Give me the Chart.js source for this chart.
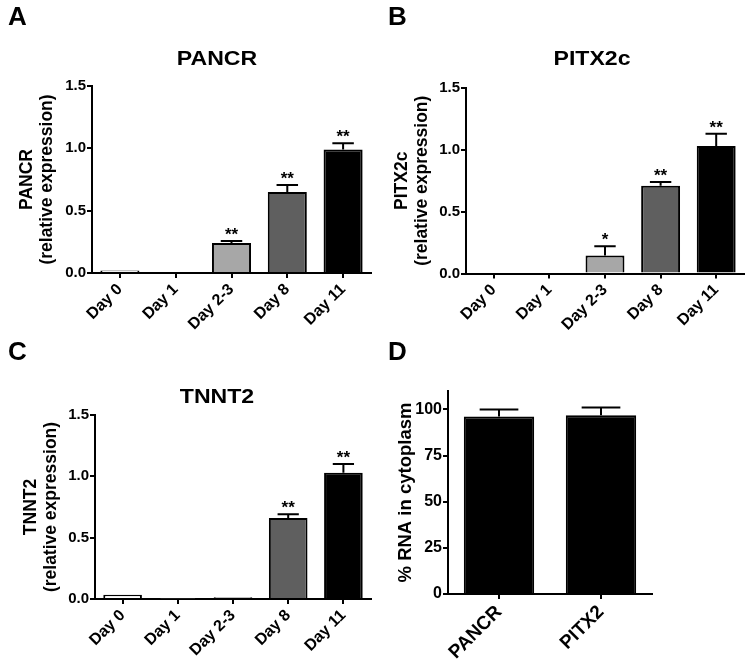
<!DOCTYPE html>
<html>
<head>
<meta charset="utf-8">
<script src="https://cdn.jsdelivr.net/npm/chart.js@4.4.1/dist/chart.umd.min.js"></script>
<style>
  body { margin: 0; background: #fff; }
  #fig { position: relative; width: 750px; height: 670px; font-family: "Liberation Sans", Arial, sans-serif; }
  .panel { position: absolute; width: 375px; height: 335px; }
  .letter, .title { position: absolute; font-weight: bold; color: #000; white-space: nowrap; line-height: 1; }
  .letter { font-size: 26px; }
  .title { font-size: 21px; transform: translate(-50%, -50%) scaleX(1.1); }
</style>
</head>
<body>
<div id="fig">
  <div class="panel" style="left:0;top:0"><canvas id="chartA" width="375" height="335"></canvas></div>
  <div class="panel" style="left:375px;top:0"><canvas id="chartB" width="375" height="335"></canvas></div>
  <div class="panel" style="left:0;top:335px"><canvas id="chartC" width="375" height="335"></canvas></div>
  <div class="panel" style="left:375px;top:335px"><canvas id="chartD" width="375" height="335"></canvas></div>

  <div class="letter" style="left:8px;top:3px">A</div>
  <div class="letter" style="left:388px;top:3px">B</div>
  <div class="letter" style="left:8px;top:338px">C</div>
  <div class="letter" style="left:388px;top:338px">D</div>

  <div class="title" style="left:217px;top:57px">PANCR</div>
  <div class="title" style="left:592px;top:57px">PITX2c</div>
  <div class="title" style="left:217px;top:395px">TNNT2</div>
</div>
<script>
// Data
const dayLabels = ['Day 0', 'Day 1', 'Day 2-3', 'Day 8', 'Day 11'];
const dayColors = ['#ffffff', '#d6d6d6', '#a7a7a7', '#5f5f5f', '#000000'];

const pancrValues = [0.02, 0, 0.24, 0.65, 0.99];
const pancrErrors = [0, 0, 0.016, 0.055, 0.05];
const pancrStars = ['', '', '**', '**', '**'];

const pitx2cValues = [0, 0, 0.145, 0.71, 1.03];
const pitx2cErrors = [0, 0, 0.075, 0.03, 0.10];
const pitx2cStars = ['', '', '*', '**', '**'];

const tnnt2Values = [0.035, 0.005, 0.015, 0.66, 1.03];
const tnnt2Errors = [0, 0, 0, 0.03, 0.07];
const tnnt2Stars = ['', '', '', '**', '**'];

const cytoLabels = ['PANCR', 'PITX2'];
const cytoValues = [96.2, 96.8];
const cytoErrors = [3.8, 4.2];

const expressionTicks = [0, 0.5, 1.0, 1.5];
const cytoTicks = [0, 25, 50, 75, 100];

Chart.defaults.font.family = "'Liberation Sans', Arial, sans-serif";
Chart.defaults.color = '#000';

// error bars (upper only) + significance stars
const errorBars = {
  id: 'errorBars',
  afterDatasetsDraw(chart, args, opts) {
    const ctx = chart.ctx;
    const y = chart.scales.y;
    const ds = chart.data.datasets[0];
    const meta = chart.getDatasetMeta(0);
    ctx.save();
    ctx.strokeStyle = '#000';
    ctx.fillStyle = '#000';
    ctx.lineWidth = 2;
    ctx.font = 'bold 17px "Liberation Sans", Arial, sans-serif';
    ctx.textAlign = 'center';
    ctx.textBaseline = 'alphabetic';
    meta.data.forEach((bar, i) => {
      const err = opts.errors[i] || 0;
      const top = y.getPixelForValue(ds.data[i] + err);
      if (err) {
        const half = bar.width * opts.cap / 2;
        ctx.beginPath();
        ctx.moveTo(bar.x, bar.y);
        ctx.lineTo(bar.x, top);
        ctx.moveTo(bar.x - half, top);
        ctx.lineTo(bar.x + half, top);
        ctx.stroke();
      }
      const star = opts.stars ? opts.stars[i] : '';
      if (star) ctx.fillText(star, bar.x, top - 1);
    });
    ctx.restore();
  }
};

function makeChart(id, labels, values, colors, errors, stars, cfg) {
  return new Chart(document.getElementById(id), {
    type: 'bar',
    data: {
      labels: labels,
      datasets: [{
        data: values,
        backgroundColor: colors,
        borderColor: '#000',
        borderWidth: 2,
        barPercentage: cfg.barPct,
        categoryPercentage: 1
      }]
    },
    options: {
      responsive: false,
      animation: false,
      layout: { padding: { top: cfg.top, right: cfg.right, bottom: 0, left: 0 } },
      plugins: {
        legend: { display: false },
        tooltip: { enabled: false },
        errorBars: { errors: errors, stars: stars, cap: 0.55 }
      },
      scales: {
        x: {
          grid: { display: true, drawOnChartArea: false, offset: false, tickLength: 5, lineWidth: 2, tickWidth: 2, tickColor: '#000' },
          border: { color: '#000', width: 2 },
          ticks: { autoSkip: false, minRotation: 45, maxRotation: 45, padding: 2, font: { size: cfg.xFont, weight: 'bold' } },
          afterFit: s => { s.height = cfg.xHeight; s.paddingLeft = 0; s.paddingRight = 0; }
        },
        y: {
          min: 0,
          max: cfg.max,
          grid: { display: true, drawOnChartArea: false, tickLength: 5, lineWidth: 2, tickWidth: 2, tickColor: '#000' },
          border: { color: '#000', width: 2 },
          afterBuildTicks: s => { s.ticks = cfg.ticks.map(v => ({ value: v })); },
          ticks: { padding: 1, font: { size: cfg.yFont, weight: 'bold' }, callback: cfg.fmt },
          title: {
            display: true,
            text: cfg.yTitle,
            font: { size: cfg.titleFont, weight: 'bold', lineHeight: 1.15 },
            padding: { top: cfg.titlePad, bottom: 0 }
          },
          afterFit: s => { s.width = cfg.yWidth; }
        }
      }
    },
    plugins: [errorBars]
  });
}

const fmtOne = v => Number(v).toFixed(1);
const fmtInt = v => String(v);

makeChart('chartA', dayLabels, pancrValues, dayColors, pancrErrors, pancrStars, {
  top: 86, right: 4, xHeight: 62, yWidth: 92, max: 1.5, ticks: expressionTicks, fmt: fmtOne,
  yTitle: ['PANCR', '(relative expression)'], titleFont: 17.5, titlePad: 17,
  xFont: 16, yFont: 15, barPct: 0.7
});

makeChart('chartB', dayLabels, pitx2cValues, dayColors, pitx2cErrors, pitx2cStars, {
  top: 88, right: 6, xHeight: 61.5, yWidth: 91, max: 1.5, ticks: expressionTicks, fmt: fmtOne,
  yTitle: ['PITX2c', '(relative expression)'], titleFont: 17.5, titlePad: 17,
  xFont: 16, yFont: 15, barPct: 0.7
});

makeChart('chartC', dayLabels, tnnt2Values, dayColors, tnnt2Errors, tnnt2Stars, {
  top: 80, right: 4, xHeight: 71, yWidth: 95, max: 1.5, ticks: expressionTicks, fmt: fmtOne,
  yTitle: ['TNNT2', '(relative expression)'], titleFont: 17.5, titlePad: 21,
  xFont: 16, yFont: 15, barPct: 0.7
});

makeChart('chartD', cytoLabels, cytoValues, ['#000', '#000'], cytoErrors, null, {
  top: 56, right: 98, xHeight: 76, yWidth: 73, max: 110, ticks: cytoTicks, fmt: fmtInt,
  yTitle: '% RNA in cytoplasm', titleFont: 18.5, titlePad: 20,
  xFont: 19, yFont: 16, barPct: 0.69
});
</script>
</body>
</html>
